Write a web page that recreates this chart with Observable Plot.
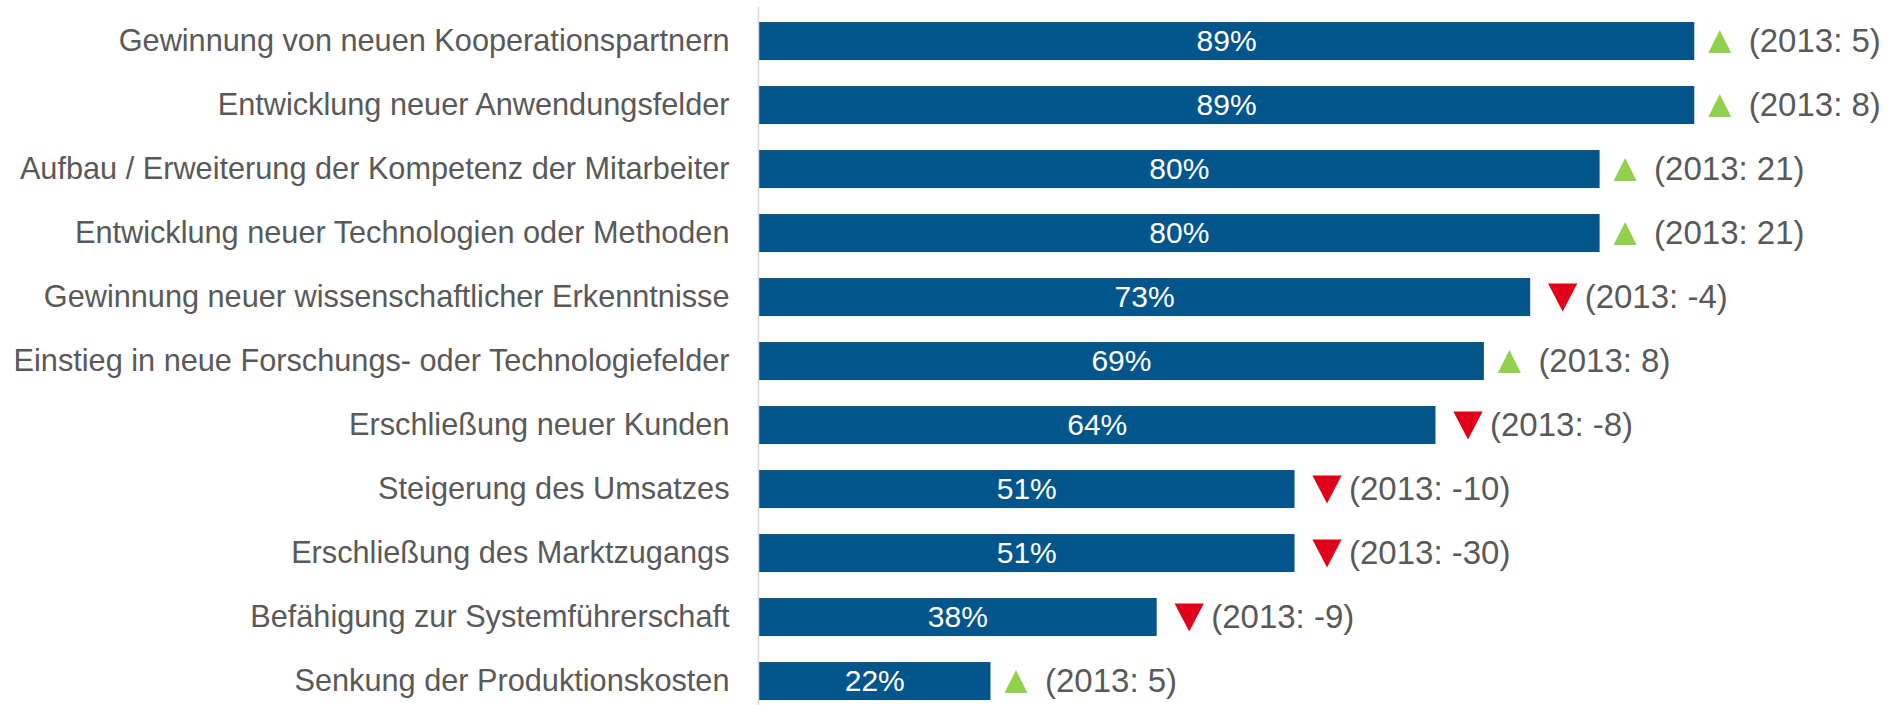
<!DOCTYPE html>
<html><head><meta charset="utf-8">
<script src="https://cdn.jsdelivr.net/npm/d3@7"></script>
<script src="https://cdn.jsdelivr.net/npm/@observablehq/plot@0.6"></script>
<style>html,body{margin:0;padding:0;background:#fff}</style>
</head><body><div id="chart"></div>
<script>
const categories = [
  "Gewinnung von neuen Kooperationspartnern",
  "Entwicklung neuer Anwendungsfelder",
  "Aufbau / Erweiterung der Kompetenz der Mitarbeiter",
  "Entwicklung neuer Technologien oder Methoden",
  "Gewinnung neuer wissenschaftlicher Erkenntnisse",
  "Einstieg in neue Forschungs- oder Technologiefelder",
  "Erschließung neuer Kunden",
  "Steigerung des Umsatzes",
  "Erschließung des Marktzugangs",
  "Befähigung zur Systemführerschaft",
  "Senkung der Produktionskosten"
];
// bar lengths (labels show the rounded value)
const shares = [89, 89, 80, 80, 73.4, 69, 64.4, 51, 51, 37.9, 22.1];
const change2013 = [5, 8, 21, 21, -4, 8, -8, -10, -30, -9, 5];

const data = categories.map((c, i) => ({category: c, share: shares[i], change: change2013[i]}));

const upTri = {draw(ctx, size) { const s = Math.sqrt(size); ctx.moveTo(0, -s / 2); ctx.lineTo(s / 2, s / 2); ctx.lineTo(-s / 2, s / 2); ctx.closePath(); }};
const downTri = {draw(ctx, size) { const s = Math.sqrt(size); ctx.moveTo(-s / 2, -s / 2 * 0.95); ctx.lineTo(s / 2, -s / 2 * 0.95); ctx.lineTo(0, s / 2 * 0.95); ctx.closePath(); }};

const chart = Plot.plot({
  width: 1888,
  height: 705,
  marginLeft: 758,
  marginRight: 78,
  marginTop: 20,
  marginBottom: 3,
  style: {fontFamily: "Arial, 'Liberation Sans', sans-serif", background: "#fff"},
  x: {domain: [0, 100], axis: null},
  y: {domain: categories, paddingInner: 0.4, paddingOuter: 0, axis: null},
  marks: [
    Plot.barX(data, {x: "share", y: "category", fill: "#02568C"}),
    Plot.ruleX([0], {stroke: "#d9d9d9", strokeWidth: 1.5, insetTop: -13, insetBottom: -3}),
    Plot.axisY({tickSize: 0, tickPadding: 29, fontSize: 30.7, fill: "#595959", label: null}),
    Plot.text(data, {x: d => d.share / 2, y: "category", text: d => Math.round(d.share) + "%", fill: "white", fontSize: 30}),
    Plot.dot(data.filter(d => d.change >= 0), {x: "share", y: "category", symbol: upTri, r: 13, fill: "#92D050", dx: 25}),
    Plot.dot(data.filter(d => d.change < 0), {x: "share", y: "category", symbol: downTri, r: 16.5, fill: "#E2001A", dx: 32}),
    Plot.text(data, {x: "share", y: "category", text: d => `(2013: ${d.change})`, textAnchor: "start", dx: 54, fontSize: 33, fill: "#595959"})
  ]
});
document.getElementById("chart").appendChild(chart);
</script>
</body></html>
